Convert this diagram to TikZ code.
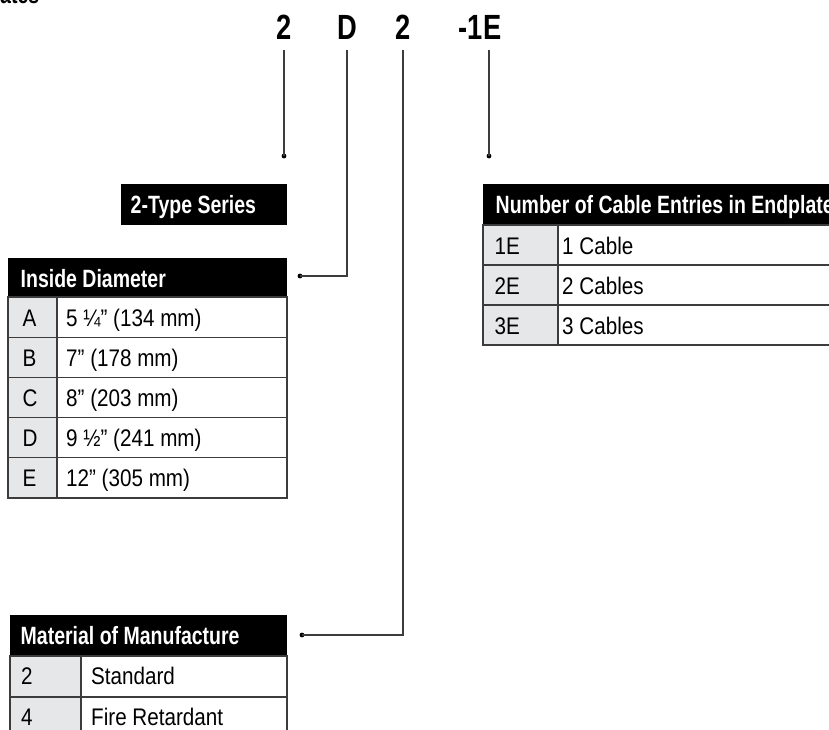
\documentclass[tikz,border=0pt]{standalone}
\usepackage{fontspec}
\setmainfont{Liberation Sans}[FakeStretch=0.86]
\newfontfamily\headfont{Liberation Sans}[FakeStretch=0.78]
\newfontfamily\codefont{Liberation Sans}[FakeStretch=0.78]
\usepackage{xcolor}
\usetikzlibrary{calc, positioning}

\definecolor{cellgray}{HTML}{E6E7E8}
\definecolor{linegray}{HTML}{3C3C3C}

\tikzset{
    headbar/.style={fill=black},
    headtext/.style={anchor=base west, inner sep=0pt, text=white, font=\headfont\bfseries\fontsize{25}{25}\selectfont},
    celltext/.style={anchor=base west, inner sep=0pt, font=\fontsize{24}{24}\selectfont},
    codetext/.style={anchor=base, inner xsep=0pt, inner ysep=10pt, font=\codefont\bfseries\fontsize{35}{35}\selectfont},
    cellline/.style={draw=linegray, line width=1.1pt},
    leader/.style={draw=linegray, line width=1.2pt},
    leaddot/.style={circle, fill=black, inner sep=0pt, minimum size=4.8pt}
}

\begin{document}
\begin{tikzpicture}[x=1pt, y=-1pt]
    \useasboundingbox (0,0) rectangle (829,730);
    \clip (0,0) rectangle (829,730);

    % Title, cut off by the top edge
    \node[headtext, text=black] (title) at (0,4) {ates};

    % Code letters along the top
    \node[codetext] (code-series) at (284.5,40) {2};
    \node[codetext] (code-dia) at (347,40) {D};
    \node[codetext] (code-mat) at (403,40) {2};
    \node[codetext] (code-cable) at (480,40) {-1E};

    % Dots at the end of each leader
    \node[leaddot] (series-dot) at (284,156) {};
    \node[leaddot] (dia-dot) at (300,276) {};
    \node[leaddot] (mat-dot) at (302,635) {};
    \node[leaddot] (cable-dot) at (489,156) {};

    % Leaders from the code letters down to the tables
    \draw[leader] (code-series.south -| series-dot) -- (series-dot.center);
    \draw[leader] (code-dia.south) |- (dia-dot.center);
    \draw[leader] (code-mat.south) |- (mat-dot.center);
    \draw[leader] (code-cable.south -| cable-dot) -- (cable-dot.center);

    % 2-Type Series box
    \fill[headbar] (121,184) rectangle (287,225);
    \node[headtext] (series-head) at (130.5,213) {2-Type Series};

    % Inside Diameter table
    \fill[headbar] (8,258) rectangle (287,297);
    \node[headtext] (dia-head) at (20.5,287) {Inside Diameter};
    \foreach \code/\size [count=\i] in {A/{5 ¼” (134 mm)}, B/{7” (178 mm)}, C/{8” (203 mm)}, D/{9 ½” (241 mm)}, E/{12” (305 mm)}} {
        \pgfmathsetmacro{\rowy}{297+40.2*(\i-1)}
        \draw[cellline, fill=cellgray] (8,\rowy) rectangle (57,\rowy+40.2);
        \draw[cellline] (57,\rowy) rectangle (287,\rowy+40.2);
        \node[celltext] (dia-code-\i) at (22.5,\rowy+29) {\code};
        \node[celltext] (dia-size-\i) at (66,\rowy+29) {\size};
    }

    % Number of Cable Entries table (runs past the right edge)
    \fill[headbar] (483,184) rectangle (850,225);
    \node[headtext] (cable-head) at (495.5,213) {Number of Cable Entries in Endplate};
    \foreach \code/\count [count=\i] in {1E/1 Cable, 2E/2 Cables, 3E/3 Cables} {
        \pgfmathsetmacro{\rowy}{225+40*(\i-1)}
        \draw[cellline, fill=cellgray] (483,\rowy) rectangle (558,\rowy+40);
        \draw[cellline] (558,\rowy) rectangle (850,\rowy+40);
        \node[celltext] (cable-code-\i) at (494.5,\rowy+29) {\code};
        \node[celltext] (cable-count-\i) at (562,\rowy+29) {\count};
    }

    % Material of Manufacture table (runs past the bottom edge)
    \fill[headbar] (10,615) rectangle (287,656);
    \node[headtext] (mat-head) at (20.5,644) {Material of Manufacture};
    \foreach \code/\kind [count=\i] in {2/Standard, 4/Fire Retardant} {
        \pgfmathsetmacro{\rowy}{656+41*(\i-1)}
        \draw[cellline, fill=cellgray] (10,\rowy) rectangle (81,\rowy+41);
        \draw[cellline] (81,\rowy) rectangle (287,\rowy+41);
        \node[celltext] (mat-code-\i) at (21,\rowy+28.5) {\code};
        \node[celltext] (mat-kind-\i) at (91,\rowy+28.5) {\kind};
    }
\end{tikzpicture}
\end{document}
